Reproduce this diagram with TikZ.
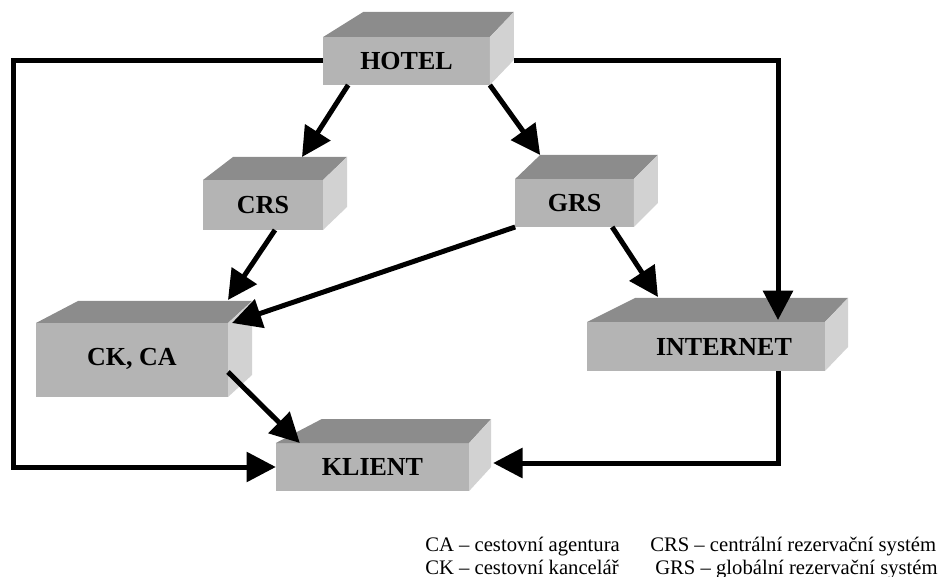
\documentclass[tikz,border=0pt]{standalone}
\usepackage{fontspec}
\setmainfont{Liberation Serif}
\usetikzlibrary{arrows.meta}

\definecolor{frontgray}{RGB}{180,180,180}
\definecolor{topgray}{RGB}{140,140,140}
\definecolor{sidegray}{RGB}{210,210,210}

% top and side face of a box: node, left shift, right shift, depth
\newcommand{\boxfaces}[4]{%
  \fill[topgray] (#1.north west) -- ++(#2,-#4) -- ([shift={(#3,-#4)}]#1.north east) -- (#1.north east) -- cycle;
  \fill[sidegray] (#1.north east) -- ++(#3,-#4) -- ([shift={(#3,-#4)}]#1.south east) -- (#1.south east) -- cycle;}

\begin{document}
\begin{tikzpicture}[x=0.75pt,y=-0.75pt,
    blok/.style={fill=frontgray,inner sep=0pt,outer sep=0pt,font=\fontsize{19.5}{22}\selectfont\bfseries},
    arr/.style={line width=3.75pt,line join=miter,-{Triangle[length=22pt,width=22pt]}},
    legend/.style={anchor=base west,inner sep=0pt,font=\fontsize{15.5}{18}\selectfont}]
  \useasboundingbox (0,0) rectangle (943,577);

  % boxes
  \node[blok,minimum width=125pt,minimum height=36pt] (hotel) at (406.5,61) {HOTEL};
  \node[blok,minimum width=90pt,minimum height=37.5pt] (crs) at (263,205) {CRS};
  \node[blok,minimum width=89pt,minimum height=36pt] (grs) at (574.5,203) {GRS};
  \node[blok,minimum width=144pt,minimum height=55.5pt] (ckca) at (132,360) {\raisebox{4.5pt}{CK, CA}};
  \node[blok,minimum width=178.5pt,minimum height=36.75pt] (internet) at (706,346.5) {\hspace*{27pt}INTERNET};
  \node[blok,minimum width=145pt,minimum height=36pt] (klient) at (372.5,467) {KLIENT};
  \boxfaces{hotel}{40}{24}{25}
  \boxfaces{crs}{30}{24}{23}
  \boxfaces{grs}{25}{24}{24}
  \boxfaces{ckca}{42}{24}{22}
  \boxfaces{internet}{48}{23}{24}
  \boxfaces{klient}{46}{22}{24}

  % arrows
  \draw[arr] ([shift={(25,0)}]hotel.south west) -- ([shift={(99,-23)}]crs.north west);
  \draw[arr] (hotel.south east) -- ([shift={(25,-24)}]grs.north west);
  \draw[arr] (hotel.west) -- ++(-310,0) |- (klient.west);
  \draw[arr] ([shift={(24,0)}]hotel.east) -| ([shift={(72,-2)}]internet.north);
  \draw[arr] ([shift={(72,0)}]crs.south west) -- ([shift={(0,-23)}]ckca.north east);
  \draw[arr] (grs.south west) -- ([shift={(4,0)}]ckca.north east);
  \draw[arr] ([shift={(97,0)}]grs.south west) -- ([shift={(71,-25)}]internet.north west);
  \draw[arr] ([shift={(0,12)}]ckca.east) -- ([shift={(24,0)}]klient.north west);
  \draw[arr] ([shift={(72,0)}]internet.south) |- ([shift={(24,-4)}]klient.east);

  % legend
  \node[legend] (legca) at (425,551) {CA – cestovní agentura};
  \node[legend] (legck) at (425,574) {CK – cestovní kancelář};
  \node[legend] (legcrs) at (650,551) {CRS – centrální rezervační systém};
  \node[legend] (leggrs) at (655,574) {GRS – globální rezervační systém};
\end{tikzpicture}
\end{document}
